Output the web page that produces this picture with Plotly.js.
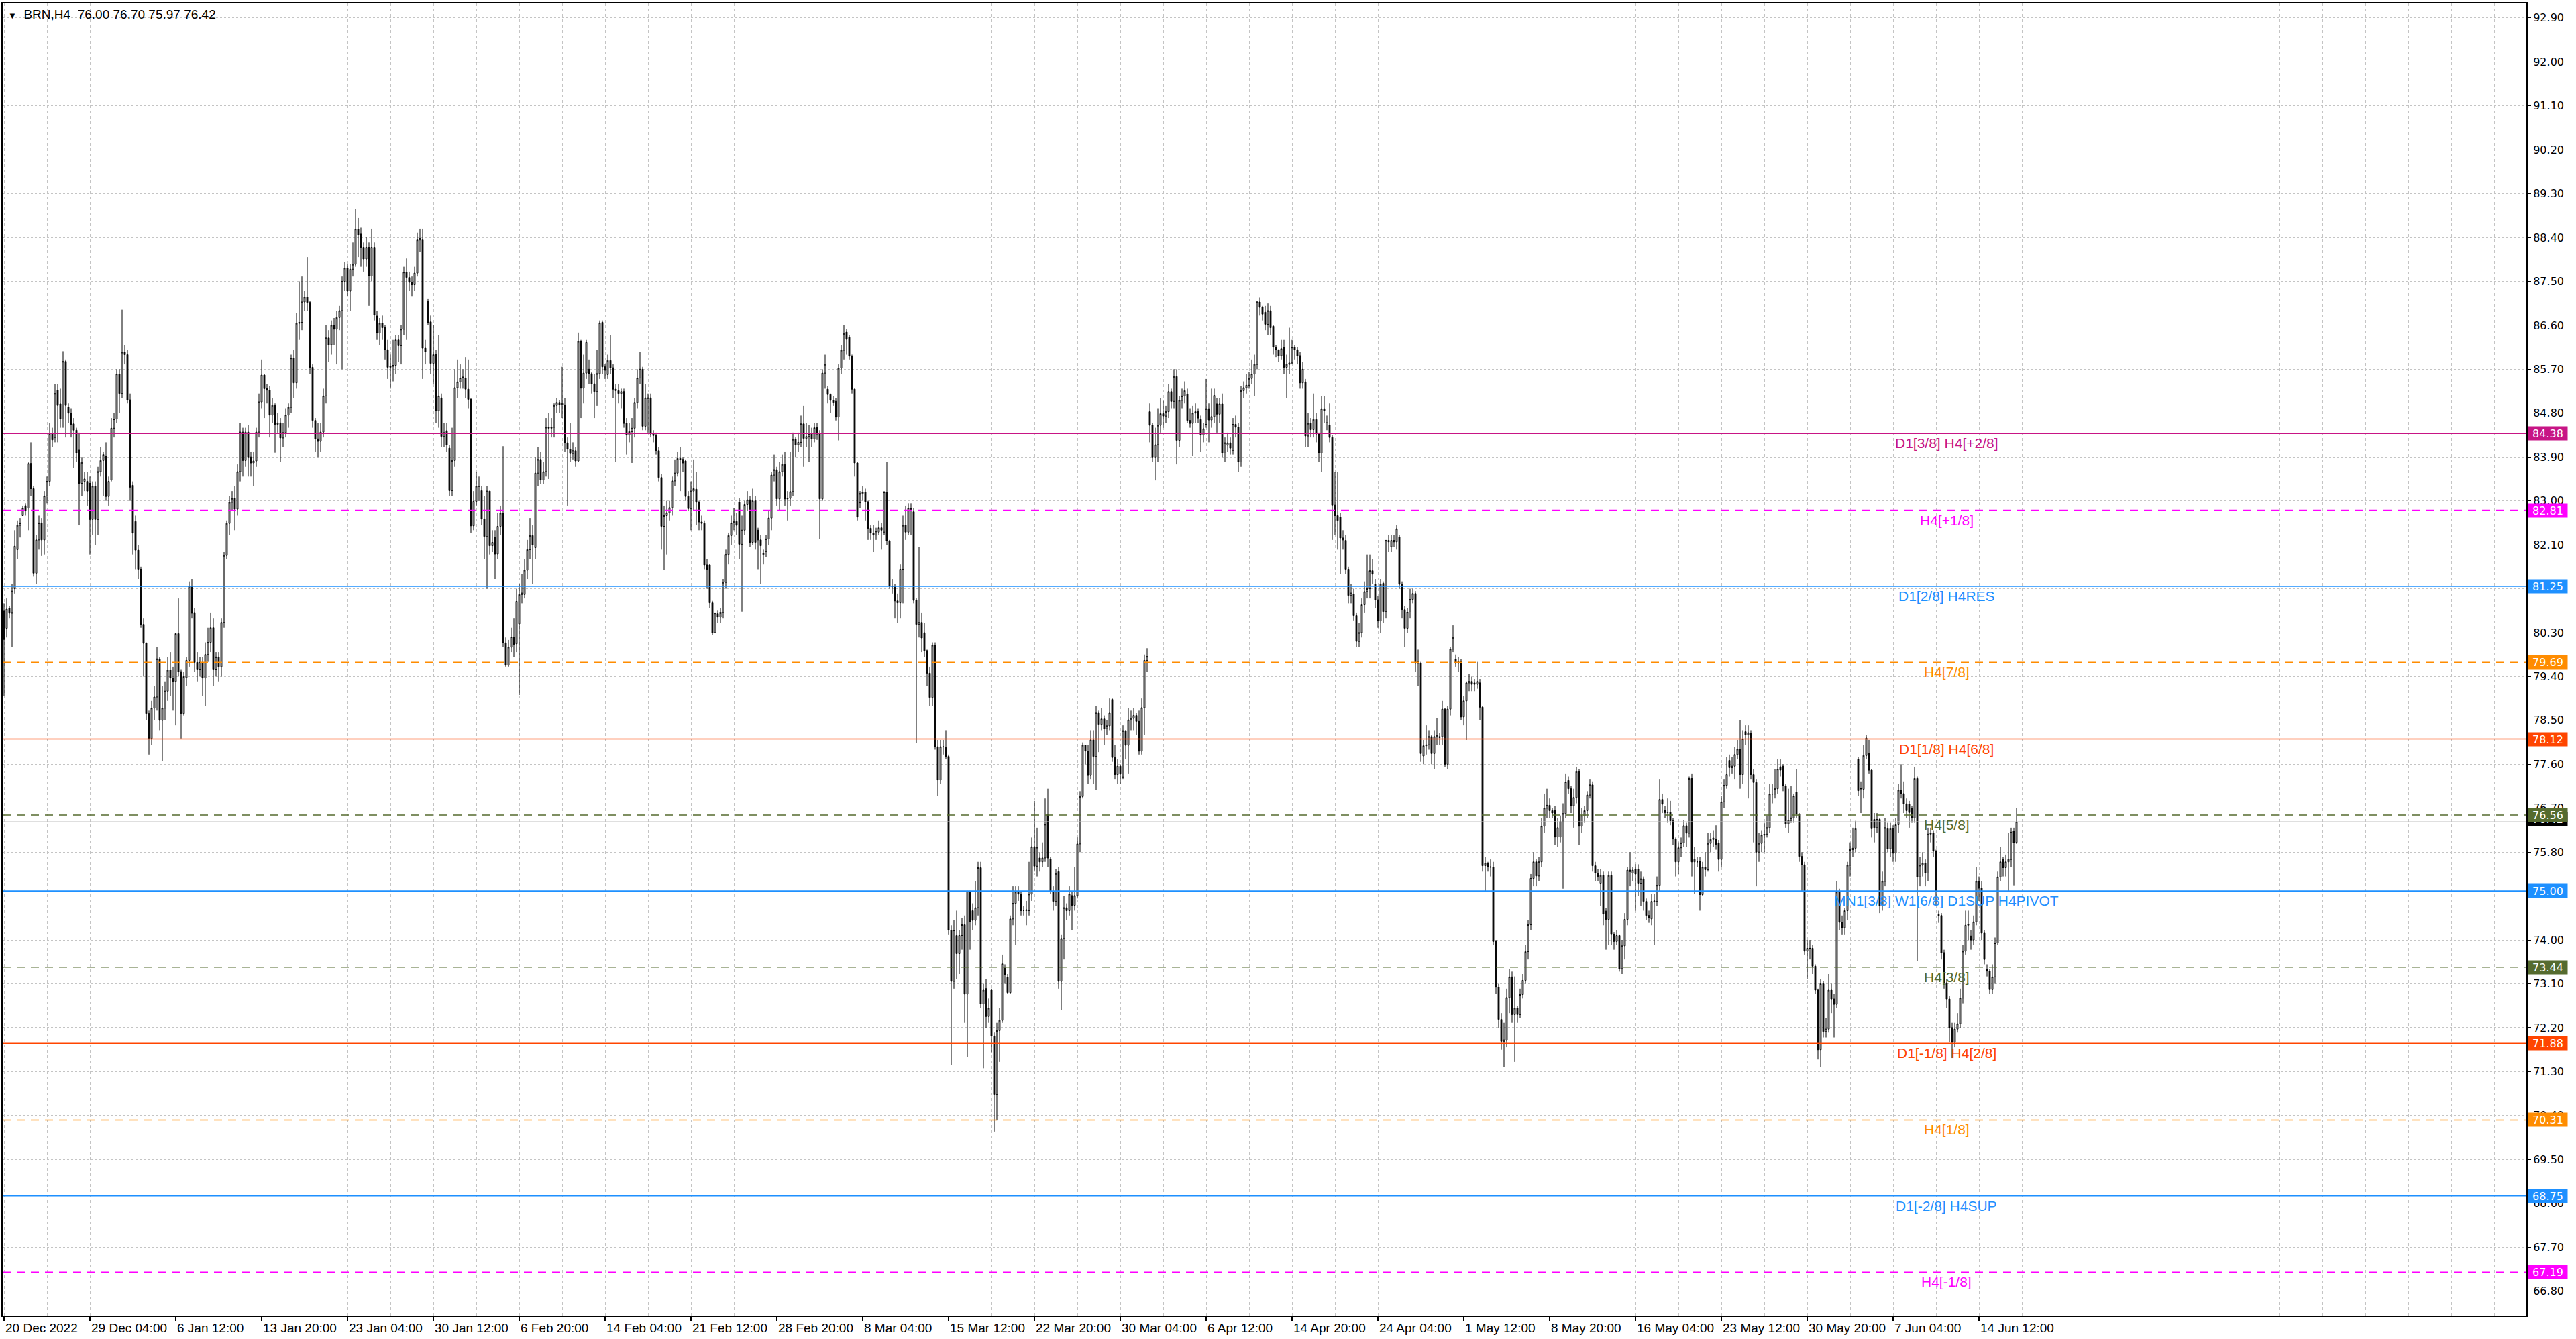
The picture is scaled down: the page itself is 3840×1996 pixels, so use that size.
<!DOCTYPE html>
<html>
<head>
<meta charset="utf-8">
<script src="https://cdn.plot.ly/plotly-3.0.1.min.js"></script>
<style>
html,body{margin:0;padding:0;background:#ffffff;overflow:hidden;}
#chart{width:3840px;height:1996px;}
</style>
</head>
<body>
<div id="chart"></div>
<script>
// ---------- DATA (H4 bars) ----------
const symbolName = "BRN,H4";

const openP = [
80.74,80.39,80.8,80.7,81.2,82.0,82.5,82.7,82.9,82.85,
83.77,83.25,81.52,82.2,82.55,82.2,83.1,83.4,84.37,84.3,
85.27,84.99,84.68,85.86,84.92,84.8,84.58,84.45,84.04,83.36,
83.4,83.4,83.36,82.62,83.3,82.62,83.6,83.83,83.92,83.09,
83.43,84.49,84.68,85.6,85.2,86.05,86.0,85.07,83.32,82.58,
81.99,81.6,80.47,80.08,78.64,78.13,78.75,78.98,79.76,78.5,
78.75,79.1,79.53,79.37,79.3,80.28,79.5,78.64,79.38,79.73,
81.25,80.7,79.69,79.55,79.69,79.37,79.85,80.1,80.4,79.55,
79.8,79.6,80.51,81.88,82.54,82.97,83.05,82.83,83.6,84.41,
83.83,84.41,83.9,83.78,83.82,84.41,85.03,85.58,85.3,85.27,
84.76,84.96,84.57,84.6,84.29,84.4,84.76,84.92,85.93,85.42,
86.64,86.66,87.08,87.18,87.07,85.74,84.65,84.27,84.22,84.41,
85.15,86.34,86.2,86.6,86.52,86.76,86.9,87.5,87.77,87.3,
87.75,87.85,88.57,88.47,88.2,87.96,88.2,87.61,88.2,86.79,
86.44,86.64,86.55,86.1,85.74,85.76,85.78,86.3,86.18,86.52,
87.69,87.58,87.48,87.43,87.67,88.35,88.35,86.13,87.09,86.67,
85.82,86.0,84.85,85.11,84.32,84.44,84.08,83.21,83.83,85.32,
85.44,85.52,85.52,85.29,85.08,82.49,82.99,83.3,83.21,82.63,
82.27,83.2,82.08,82.26,81.91,82.48,82.75,80.09,79.63,80.0,
80.21,80.07,80.48,81.08,81.08,81.58,82.0,82.29,82.04,83.57,
83.85,83.43,83.6,84.51,84.49,84.51,84.96,85.02,84.97,84.97,
84.19,84.06,83.97,84.03,83.82,86.27,85.31,85.62,85.7,85.61,
85.4,85.24,85.61,86.66,85.75,85.59,85.88,85.73,85.29,85.26,
85.2,85.24,84.59,84.35,84.42,84.49,85.02,85.52,85.7,84.53,
85.11,85.11,84.37,84.34,84.03,83.48,82.48,82.7,82.76,82.86,
83.41,83.57,83.87,83.85,83.82,83.09,82.84,83.2,83.24,82.97,
82.57,82.54,81.69,81.69,80.91,80.3,80.69,80.62,80.71,81.33,
81.9,82.29,82.55,82.58,82.97,82.11,82.4,82.92,83.02,82.15,
83.0,82.4,82.2,81.9,81.96,82.22,82.65,83.53,83.64,83.04,
83.6,83.75,83.04,83.05,83.19,84.26,84.15,84.2,84.58,84.28,
84.32,84.38,84.27,84.5,84.37,83.04,85.62,85.29,85.18,85.06,
85.04,84.72,85.72,86.09,86.46,86.35,85.97,85.29,83.78,82.96,
83.15,83.18,82.98,82.44,82.34,82.3,82.36,82.45,82.36,83.18,
82.18,81.25,81.25,80.95,80.91,81.6,82.5,82.36,82.85,82.78,
80.96,80.47,80.51,80.3,79.93,79.47,78.97,80.04,77.96,77.28,
77.96,77.94,77.76,74.2,73.15,74.09,73.72,74.09,74.31,72.89,
75.0,74.6,74.4,74.66,75.48,72.69,73.0,72.43,72.97,72.03,
70.83,72.14,72.35,73.42,73.23,72.92,74.43,74.75,74.98,74.94,
74.6,74.6,74.6,74.94,75.91,75.51,75.68,75.6,75.68,76.57,
75.66,75.0,74.79,75.4,73.15,74.03,74.66,74.6,74.91,74.71,
74.91,75.97,76.94,77.99,77.87,77.37,78.1,77.76,78.65,78.42,
78.53,78.33,78.39,78.93,77.74,77.39,77.56,77.34,78.29,77.99,
78.51,78.54,78.6,78.48,77.87,78.76,79.73,84.83,84.55,83.9,
84.15,84.55,84.79,84.74,84.83,85.24,85.04,85.55,84.24,85.06,
85.15,85.19,84.65,84.59,84.8,84.83,84.67,84.35,84.57,84.89,
84.66,84.73,84.99,84.78,84.99,83.98,84.14,84.19,84.03,84.57,
84.51,83.8,85.26,85.32,85.37,85.51,85.6,85.8,87.08,86.97,
86.87,86.62,86.9,86.58,86.15,86.1,85.98,86.15,85.74,85.8,
85.83,86.15,86.1,85.98,85.42,85.44,84.33,84.59,84.46,84.67,
84.37,83.98,84.89,84.6,84.55,84.3,82.91,82.7,82.67,82.24,
82.19,81.6,81.06,81.09,80.65,80.12,80.3,80.87,81.14,81.2,
81.57,81.29,80.97,80.54,81.31,80.73,82.19,82.06,82.19,82.16,
82.26,81.29,80.77,80.39,80.72,80.98,81.1,79.67,79.67,77.77,
77.98,78.0,78.17,77.82,78.17,78.17,78.17,78.73,77.6,78.73,
79.96,79.75,79.67,79.7,78.57,78.9,79.27,79.3,79.27,79.24,
79.27,78.77,75.52,75.57,75.5,75.49,73.97,73.03,72.37,71.92,
71.94,72.82,73.24,72.47,72.6,72.47,72.88,73.17,73.76,74.31,
75.26,75.6,75.31,75.6,76.33,76.7,76.76,76.65,76.65,76.11,
76.11,76.43,76.59,77.27,77.1,76.75,76.92,77.45,76.33,76.54,
76.65,76.97,77.18,75.52,75.37,75.15,75.32,74.59,74.42,75.32,
74.11,73.97,74.09,73.41,73.88,74.42,75.43,75.37,75.45,75.45,
75.15,75.25,74.79,74.5,74.43,74.79,74.79,75.12,76.88,76.66,
76.61,76.62,76.44,76.07,75.6,75.89,75.99,76.34,76.19,77.31,
75.6,75.6,75.61,74.93,75.49,75.44,75.98,76.06,76.07,75.99,
75.65,76.83,77.17,77.68,77.53,77.56,77.8,77.91,77.39,78.27,
78.21,78.23,77.39,77.23,75.8,75.98,76.15,76.17,76.3,76.99,
76.99,77.1,77.55,77.56,77.16,76.38,76.45,76.5,77.03,76.58,
75.71,75.54,73.77,73.83,73.83,73.46,72.97,71.75,73.1,72.12,
72.17,72.97,72.79,72.68,74.98,74.36,74.25,74.6,75.53,75.85,
75.88,77.7,77.1,77.09,77.78,77.82,77.48,76.47,76.3,76.47,
74.7,75.2,76.28,75.87,76.28,75.78,76.36,77.07,77.0,76.79,
76.78,76.69,76.5,77.31,75.29,75.53,75.57,75.37,76.17,76.19,
75.82,74.52,74.5,73.74,73.12,72.79,72.2,71.9,72.17,72.28,
72.81,73.77,74.3,74.08,74.0,74.37,75.2,75.06,74.14,73.4,
73.36,72.98,73.24,73.94,75.29,75.65,75.48,75.6,75.65,76.23,76.00
];

const highP = [
80.9,81.0,80.85,81.3,82.4,82.6,82.65,82.9,82.95,83.8,
84.2,83.3,82.3,82.7,82.65,83.2,83.5,84.6,84.5,85.4,
85.4,85.3,86.07,85.9,85.0,84.9,84.7,84.5,84.4,83.9,
83.6,83.6,83.5,83.4,83.4,83.7,84.1,84.0,84.2,83.5,
84.7,84.8,85.7,85.7,86.92,86.2,86.1,85.2,83.4,82.7,
82.1,81.65,80.6,80.1,78.7,78.9,79.2,80.0,79.8,79.2,
79.3,79.8,79.9,79.6,80.3,81.0,79.55,79.5,79.8,81.35,
81.4,80.8,79.9,79.8,79.8,80.1,80.4,80.7,80.6,79.9,
79.9,80.6,81.95,82.6,83.1,83.2,83.3,83.75,84.6,84.5,
84.5,84.55,84.0,84.0,84.5,85.2,85.9,85.6,85.4,85.35,
85.1,85.0,84.8,84.7,84.6,84.9,85.0,86.0,86.1,86.85,
87.5,87.6,87.3,88.0,87.1,85.8,84.7,84.6,84.6,85.3,
86.6,86.5,86.7,86.75,86.9,87.0,87.6,87.9,87.85,87.85,
88.3,88.99,88.8,88.6,88.3,88.4,88.3,88.58,88.3,86.9,
86.75,86.8,86.6,86.3,86.0,86.3,86.4,86.4,86.6,87.8,
87.97,87.7,87.6,87.8,88.5,88.58,88.58,86.3,87.15,86.8,
86.6,86.1,86.4,85.2,84.6,84.6,84.15,84.5,85.7,85.9,
85.8,85.7,85.95,85.9,85.1,83.2,83.6,83.5,83.3,83.1,
83.3,83.2,82.4,82.4,82.75,82.9,84.12,80.2,80.15,80.4,
80.6,81.2,81.3,81.5,81.8,82.2,82.65,82.5,83.9,84.1,
84.0,83.8,84.7,84.8,84.7,85.0,85.1,85.06,85.75,85.1,
84.3,84.6,84.2,84.1,86.45,86.3,86.0,86.3,85.9,85.65,
85.6,86.1,86.7,86.7,85.8,86.0,86.4,85.8,85.4,85.4,
85.3,85.3,84.7,84.6,84.7,85.1,85.7,86.05,85.75,85.4,
85.2,85.2,84.45,84.4,84.1,83.55,82.9,83.0,83.0,83.5,
83.85,84.0,84.1,83.9,83.85,83.2,83.4,83.85,83.6,83.0,
82.7,82.6,81.8,81.7,80.95,80.7,80.75,80.8,81.4,82.0,
82.35,82.7,82.85,82.75,83.05,82.7,83.0,83.2,83.1,83.25,
83.1,82.45,82.3,82.0,82.3,82.8,83.6,83.95,83.7,83.8,
83.95,84.0,83.2,84.0,84.4,84.3,84.4,84.75,84.95,84.6,
84.55,84.5,84.6,84.6,84.45,85.7,86.0,85.35,85.2,85.15,
85.1,85.8,86.2,86.6,86.52,86.4,86.0,85.3,83.8,83.2,
83.3,83.25,83.0,82.5,82.5,82.45,82.6,82.55,83.2,83.8,
82.2,81.4,81.3,81.1,81.7,82.7,82.9,82.95,82.95,82.85,
81.0,82.05,80.7,80.5,79.95,79.6,80.1,80.1,78.1,78.1,
78.1,78.3,77.8,74.3,74.4,74.6,74.2,74.45,74.5,75.0,
75.0,74.75,75.2,75.6,75.6,73.1,73.2,72.8,73.0,72.1,
72.3,72.6,73.7,73.5,73.3,74.5,75.1,75.1,75.1,75.0,
74.7,74.8,75.6,76.1,76.85,76.3,75.8,76.0,76.9,77.1,
75.7,75.1,75.45,75.5,74.1,74.9,74.75,75.1,75.0,75.5,
76.1,77.05,78.05,78.0,78.0,78.3,78.3,78.8,78.7,78.75,
78.6,78.5,78.95,78.95,78.0,77.7,77.6,78.4,78.3,78.75,
78.7,78.75,78.65,78.7,78.95,79.85,79.98,85.0,84.6,84.5,
84.9,85.1,85.05,84.95,85.4,85.3,85.7,85.7,85.15,85.3,
85.45,85.3,84.9,84.95,85.0,84.9,84.75,84.6,85.5,85.0,
85.3,85.3,85.1,85.1,85.2,84.3,84.4,84.3,84.7,84.75,
84.6,85.35,85.45,85.6,85.65,85.9,86.0,87.1,87.17,87.0,
87.0,87.05,87.0,86.6,86.2,86.1,86.3,86.3,86.0,86.55,
86.3,86.2,86.15,86.05,85.85,85.5,84.8,84.7,85.2,84.8,
84.4,85.15,85.15,84.75,85.0,84.35,83.6,83.6,82.75,82.4,
82.3,81.65,81.3,81.2,80.7,80.5,81.0,81.35,81.9,81.9,
81.8,81.4,81.05,81.4,81.35,82.2,82.3,82.3,82.3,82.5,
82.3,81.35,80.85,80.8,81.2,81.2,81.15,79.95,79.7,78.1,
78.4,78.3,78.2,78.3,78.55,78.25,78.9,78.75,78.8,80.0,
80.45,79.85,79.8,79.75,79.0,79.3,79.45,79.4,79.35,79.7,
79.35,78.8,75.7,75.6,75.65,75.6,74.0,73.1,72.5,72.3,
73.0,73.4,73.35,73.25,72.65,73.0,73.3,73.9,74.4,75.35,
75.8,75.65,75.7,76.5,77.0,77.1,76.9,76.7,76.75,76.5,
76.55,76.8,77.4,77.35,77.15,77.1,77.55,77.5,76.7,76.75,
77.05,77.3,77.25,75.6,75.45,75.45,75.4,74.65,75.4,75.4,
74.15,74.2,74.1,74.0,74.55,75.5,75.8,75.5,75.55,75.55,
75.4,75.3,74.85,74.6,74.95,74.95,75.3,77.3,77.0,76.75,
76.9,76.85,76.5,76.1,76.0,76.1,76.45,76.4,77.35,77.4,
75.9,75.7,75.7,75.6,75.8,76.2,76.2,76.25,76.35,76.05,
76.95,77.3,77.75,77.8,77.75,77.95,78.1,78.5,78.3,78.4,
78.4,78.3,77.5,77.3,76.2,76.25,76.4,76.55,77.2,77.2,
77.5,77.7,77.7,77.6,77.2,77.1,77.15,77.0,77.5,76.6,
75.8,75.6,74.0,74.0,73.9,73.5,73.0,73.2,73.15,72.4,
73.3,73.1,72.9,75.2,75.05,74.5,74.65,75.6,76.0,76.3,
76.44,77.75,77.25,78.0,78.2,78.1,77.5,76.6,76.6,76.5,
75.4,76.5,76.4,76.4,76.35,76.5,77.2,77.6,77.25,76.9,
76.85,76.75,77.55,77.35,75.7,75.8,75.65,76.3,76.3,76.25,
75.85,74.6,74.55,73.8,73.2,72.85,72.3,72.3,72.5,73.0,
73.9,74.6,74.6,74.2,74.5,75.5,75.3,75.2,74.2,73.5,
73.4,73.5,74.05,75.4,75.9,75.7,75.75,76.2,76.3,76.3,76.70
];

const lowP = [
79.0,80.2,80.6,80.0,81.1,81.8,82.25,82.7,82.7,82.4,
83.1,81.45,81.3,82.0,81.87,81.9,82.95,83.3,84.1,84.2,
84.2,84.5,84.5,84.3,84.6,84.3,83.67,83.8,82.5,83.1,
83.2,82.9,81.9,82.3,82.1,82.3,83.5,83.1,83.0,82.9,
83.4,84.3,84.6,84.8,85.1,85.8,85.0,83.0,81.9,81.6,
81.4,80.4,79.4,78.5,77.8,78.0,78.5,78.7,78.3,77.66,
78.5,78.9,79.0,78.7,78.4,79.4,78.13,78.6,79.2,79.6,
80.6,79.5,79.3,79.4,79.0,78.8,79.7,79.9,79.2,79.4,
79.3,79.4,80.4,81.8,82.3,82.8,82.4,82.7,83.4,83.5,
83.7,83.5,83.5,83.3,83.7,84.3,84.9,84.7,85.0,84.3,
84.6,83.99,84.4,83.8,84.1,84.3,84.5,84.8,85.1,85.3,
86.3,86.5,86.9,86.9,85.6,84.5,84.0,83.9,84.0,84.3,
85.0,85.85,86.0,86.2,85.8,86.5,85.7,87.3,87.2,86.9,
87.6,87.8,88.0,87.8,87.7,87.8,87.0,87.5,86.7,86.3,
86.2,86.3,85.9,85.5,85.3,85.45,85.6,85.85,85.8,86.4,
86.3,87.3,87.2,87.3,87.6,88.1,85.5,85.8,86.6,85.6,
85.4,84.6,84.5,84.1,84.1,84.0,83.1,83.1,83.7,85.1,
85.3,85.3,85.1,84.9,82.35,82.4,82.9,83.0,82.5,81.8,
81.2,81.9,81.95,81.4,81.8,82.3,80.0,79.6,79.6,79.9,
79.8,79.9,79.02,80.9,81.0,81.4,81.8,81.3,81.8,83.3,
83.35,83.35,83.5,83.45,84.3,84.3,84.8,84.8,84.7,84.0,
82.9,83.8,83.85,83.7,83.8,84.7,85.0,85.5,85.4,85.2,
84.7,84.95,85.5,85.6,85.5,85.5,85.6,85.1,83.8,85.0,
84.9,84.5,83.95,84.2,83.78,84.3,84.9,85.4,84.45,84.45,
84.4,84.3,84.2,83.95,83.4,82.0,81.58,81.9,82.6,82.7,
83.3,83.5,83.2,83.6,83.0,82.8,82.4,82.8,82.5,82.4,
82.4,81.6,81.2,80.8,80.25,80.3,80.5,80.5,80.6,81.2,
81.7,82.1,82.4,82.3,81.8,80.73,82.3,82.8,82.05,82.1,
82.0,81.6,81.3,81.7,81.85,82.1,82.4,83.4,82.9,82.8,
83.5,82.9,82.6,82.9,83.1,83.9,84.0,84.1,83.7,84.1,
83.8,84.1,84.2,84.25,82.22,83.0,85.3,85.0,84.8,84.95,
84.65,84.24,85.6,85.9,86.0,85.9,85.2,83.5,82.6,82.85,
83.0,82.6,82.2,82.2,81.95,82.2,82.3,82.0,82.3,82.1,
81.2,81.1,80.6,80.5,80.6,80.9,82.2,82.3,82.3,80.9,
78.04,80.2,79.9,79.8,79.2,78.8,78.8,77.9,76.95,77.2,
77.8,77.7,74.1,71.44,73.0,73.2,73.3,73.8,72.3,71.6,
73.8,74.2,74.3,74.5,72.6,71.37,72.2,72.3,71.7,70.07,
70.3,71.5,72.3,73.1,72.9,72.9,74.3,73.9,74.8,74.5,
74.5,74.3,74.5,74.8,75.4,75.3,75.4,75.5,75.6,75.5,
74.95,74.6,74.7,73.0,72.56,73.6,74.4,74.5,74.2,74.6,
74.85,75.8,76.9,77.6,77.2,77.3,77.2,77.07,77.85,78.3,
78.0,78.2,78.3,77.65,77.3,77.2,77.2,77.3,77.7,77.4,
78.3,78.3,78.2,77.8,77.8,78.2,79.5,84.2,83.8,83.42,
83.8,84.4,84.5,84.6,84.7,84.9,84.9,83.75,84.1,84.9,
85.0,84.6,84.5,83.92,84.6,84.6,84.0,84.2,84.5,84.2,
84.5,84.6,84.4,84.6,83.9,83.8,84.0,83.95,83.95,84.3,
83.6,83.7,85.1,85.2,85.3,85.4,85.15,85.7,86.8,86.7,
86.5,86.4,86.4,86.0,85.95,85.85,85.9,85.6,85.1,85.6,
85.8,85.9,85.8,85.3,85.3,84.1,84.1,84.3,84.3,84.2,
83.8,83.6,84.6,84.45,84.2,82.2,82.3,82.0,81.5,82.0,
81.5,80.9,80.9,80.55,80.0,80.0,80.2,80.7,81.0,81.0,
81.3,80.8,80.4,80.3,80.5,80.6,81.95,81.95,82.05,82.0,
81.2,80.6,80.0,80.3,80.6,80.9,79.5,79.2,77.65,77.6,
77.8,77.9,77.6,77.5,78.0,78.0,78.0,77.55,77.5,78.6,
79.9,79.6,79.5,78.5,78.4,78.1,79.1,79.1,79.1,79.15,
78.5,75.4,75.0,75.4,75.3,73.9,72.9,72.2,71.75,71.4,
71.8,72.5,72.3,71.5,72.3,72.4,72.8,73.1,73.6,74.2,
75.1,75.1,75.2,75.5,76.2,76.5,76.5,76.5,75.95,75.9,
76.0,75.05,76.5,77.0,76.6,76.3,76.8,75.95,76.2,76.4,
76.5,76.9,75.4,75.2,75.2,74.7,74.3,73.8,73.9,73.9,
73.8,73.9,73.35,73.3,73.6,74.3,75.1,75.2,74.6,74.9,
74.7,74.6,74.4,74.35,74.3,73.9,74.7,75.0,76.6,76.5,
76.4,76.35,75.95,75.3,75.35,75.7,75.9,75.9,76.1,75.3,
74.95,75.5,74.6,74.9,75.3,75.4,75.8,75.9,75.85,75.4,
75.5,76.7,77.1,77.35,77.4,77.3,77.7,77.1,77.2,78.0,
76.9,77.3,76.0,75.1,75.6,75.8,75.8,76.1,76.2,76.8,
76.9,77.0,77.35,77.05,76.3,76.2,76.4,76.4,76.5,75.6,
75.0,73.7,73.2,73.6,73.3,72.9,71.55,71.4,72.0,72.0,
72.1,72.5,72.0,72.6,74.2,74.1,74.1,74.4,75.3,75.7,
75.8,76.95,76.6,76.9,77.7,77.4,76.1,76.0,76.2,74.55,
74.6,75.1,75.8,75.7,75.6,75.6,76.2,76.9,76.6,76.5,
76.3,76.4,76.4,73.57,75.1,75.3,75.1,75.2,76.0,75.7,
74.7,74.35,73.6,73.0,72.6,71.9,71.58,71.8,72.1,72.2,
72.7,73.7,74.0,73.8,73.9,74.3,74.8,74.0,73.5,73.25,
72.9,72.9,73.1,73.9,75.2,75.3,75.3,75.0,75.5,75.12,75.97
];

const closeP = [
80.16,80.78,80.7,81.15,82.07,82.5,82.55,82.85,82.8,83.77,
83.25,81.52,82.2,82.55,82.2,83.1,83.4,84.37,84.25,85.2,
84.96,84.68,85.86,84.96,84.8,84.57,84.45,83.98,83.36,83.79,
83.45,83.2,82.62,83.3,82.62,83.6,83.83,83.95,83.09,83.4,
84.49,84.68,85.6,85.2,86.05,86.0,85.07,83.28,82.34,81.99,
81.6,80.47,80.08,78.64,78.13,78.75,78.98,79.76,78.5,78.75,
79.1,79.53,79.37,79.3,80.28,79.5,78.64,79.4,79.73,81.25,
80.7,79.69,79.55,79.69,79.37,79.85,80.1,80.4,79.55,79.8,
79.6,80.51,81.88,82.54,82.97,83.05,82.83,83.6,84.41,83.83,
84.41,83.9,83.78,83.82,84.41,85.03,85.58,85.3,85.27,84.76,
84.96,84.57,84.6,84.29,84.4,84.76,84.92,85.93,85.42,86.64,
86.66,87.08,87.18,87.07,85.74,84.65,84.27,84.22,84.41,85.15,
86.34,86.2,86.6,86.52,86.76,86.9,87.5,87.77,87.3,87.75,
87.85,88.57,88.45,88.2,87.96,88.2,87.61,88.2,86.81,86.44,
86.64,86.55,86.1,85.74,85.76,85.78,86.3,86.18,86.52,87.69,
87.58,87.48,87.43,87.67,88.35,88.38,86.13,86.06,86.65,85.82,
86.0,84.85,85.15,84.32,84.4,84.15,83.21,83.83,85.32,85.44,
85.52,85.54,85.29,85.08,82.49,82.99,83.3,83.3,82.63,82.27,
83.2,82.08,82.15,81.91,82.48,82.75,80.09,79.63,80.0,80.21,
80.06,80.94,81.08,81.11,81.58,82.0,82.29,82.1,83.57,83.85,
83.43,83.6,84.51,84.49,84.51,84.96,85.02,84.97,85.0,84.19,
84.06,83.97,84.03,83.82,86.27,85.31,85.62,86.25,85.61,85.4,
85.24,85.61,86.65,85.75,85.68,85.88,85.73,85.29,85.26,85.2,
85.24,84.59,84.35,84.42,84.49,85.02,85.52,85.7,84.53,85.11,
85.1,84.37,84.34,84.03,83.48,82.48,82.7,82.76,82.86,83.41,
83.57,83.87,83.85,83.78,83.09,82.84,83.2,83.25,82.97,82.57,
82.54,81.69,81.6,80.91,80.3,80.69,80.62,80.71,81.33,81.9,
82.29,82.55,82.58,82.5,82.11,82.4,82.92,83.02,82.15,83.0,
82.15,82.2,82.08,81.92,82.22,82.65,83.53,83.64,83.04,83.6,
83.75,83.04,83.05,83.19,84.26,84.15,84.2,84.58,84.28,84.32,
84.38,84.27,84.5,84.37,83.04,85.62,85.8,85.18,85.06,85.02,
84.72,85.72,86.09,86.43,86.31,85.97,85.29,83.78,82.67,83.15,
83.18,82.98,82.44,82.34,82.3,82.38,82.45,82.4,83.18,82.18,
81.25,81.24,80.95,80.91,81.6,82.5,82.36,82.85,82.8,80.96,
80.47,80.51,80.19,79.93,79.47,78.97,80.04,77.96,77.28,77.96,
77.96,77.76,74.2,73.15,74.2,73.72,74.09,74.31,72.89,75.0,
74.37,74.4,74.66,75.48,72.69,72.97,72.43,72.6,72.03,70.83,
72.14,72.35,73.51,73.29,72.92,74.43,74.75,74.98,74.94,74.6,
74.6,74.62,74.94,75.91,75.51,75.9,75.6,75.68,76.37,75.68,
75.0,74.79,75.36,73.15,74.03,74.66,74.6,74.94,74.71,74.91,
75.97,76.94,77.99,77.87,77.37,78.1,77.76,78.65,78.42,78.53,
78.33,78.39,78.65,77.74,77.39,77.56,77.4,78.29,77.99,78.51,
78.54,78.6,78.48,77.87,78.76,79.73,79.81,84.55,83.9,84.15,
84.55,84.79,84.74,84.83,85.24,85.04,85.55,84.24,85.06,85.15,
85.26,84.65,84.59,84.8,84.83,84.7,84.35,84.48,84.89,84.66,
84.73,85.16,84.78,84.99,83.98,84.19,84.19,84.08,84.57,84.51,
83.8,85.26,85.32,85.37,85.51,85.6,85.8,87.08,86.97,86.83,
86.62,86.9,86.55,86.15,86.1,85.98,86.12,85.74,85.8,85.83,
86.15,86.1,85.98,85.42,85.7,84.33,84.59,84.46,84.67,84.37,
83.98,84.89,84.85,84.6,84.3,82.91,82.7,82.6,82.24,82.2,
81.6,81.06,81.11,80.65,80.12,80.3,80.87,81.14,81.2,81.57,
81.5,80.97,80.54,81.29,80.73,82.19,82.16,82.19,82.16,82.43,
81.29,80.77,80.39,80.72,80.98,81.1,79.67,79.7,77.82,77.98,
78.0,78.17,77.82,78.17,78.2,78.15,78.73,77.6,78.73,79.96,
80.2,79.67,79.7,78.57,78.9,79.27,79.3,79.24,79.24,79.3,
78.77,75.52,75.57,75.5,75.49,73.97,73.03,72.37,71.92,71.95,
72.82,73.24,72.47,72.6,72.47,72.88,73.17,73.76,74.31,75.26,
75.6,75.31,75.6,76.33,76.7,76.76,76.65,76.6,76.11,76.3,
76.43,76.59,77.24,77.1,76.75,76.92,77.45,76.33,76.55,76.65,
76.97,77.18,75.52,75.37,75.3,75.32,74.53,74.42,75.32,74.11,
73.97,74.09,73.41,73.88,74.42,75.43,75.4,75.43,75.35,75.15,
75.25,74.79,74.5,74.45,74.79,74.8,75.12,76.88,76.78,76.61,
76.62,76.44,76.07,75.6,75.89,75.99,76.34,76.19,77.31,75.6,
75.65,75.6,74.93,75.49,75.44,75.98,76.06,76.09,75.96,75.65,
76.83,77.17,77.39,77.53,77.56,77.8,77.91,77.39,78.12,78.21,
78.25,77.39,77.23,75.8,75.98,76.15,76.17,76.3,76.99,76.99,
77.1,77.5,77.48,77.16,76.38,76.45,76.5,76.95,76.58,75.71,
75.54,73.77,73.83,73.83,73.46,72.97,71.75,73.1,72.12,72.17,
72.97,72.79,72.68,74.98,74.36,74.25,74.6,75.53,75.85,75.88,
76.28,77.06,77.1,77.78,78.14,77.48,76.28,76.3,76.47,74.7,
75.2,76.3,75.87,76.28,75.78,76.36,77.07,77.0,76.79,76.65,
76.61,76.5,77.31,75.29,75.53,75.57,75.37,76.17,76.19,75.82,
75.01,74.5,73.74,73.12,72.79,72.2,71.9,72.17,72.28,72.81,
73.77,74.3,74.32,74.0,74.37,75.2,75.06,74.14,73.6,73.36,
72.98,73.24,73.94,75.29,75.6,75.48,75.6,75.65,76.21,75.99,76.42
];

// time-axis labels (one every 32 H4 bars)
const timeLabels = ["20 Dec 2022","29 Dec 04:00","6 Jan 12:00","13 Jan 20:00","23 Jan 04:00",
"30 Jan 12:00","6 Feb 20:00","14 Feb 04:00","21 Feb 12:00","28 Feb 20:00","8 Mar 04:00",
"15 Mar 12:00","22 Mar 20:00","30 Mar 04:00","6 Apr 12:00","14 Apr 20:00","24 Apr 04:00",
"1 May 12:00","8 May 20:00","16 May 04:00","23 May 12:00","30 May 20:00","7 Jun 04:00","14 Jun 12:00"];
const barsPerLabel = 32;

// price scale ticks (81.20 and 74.90 sit fully under the price boxes in the reference)
const priceTicks = [92.90,92.00,91.10,90.20,89.30,88.40,87.50,86.60,85.70,84.80,83.90,83.00,82.10,81.20,
80.30,79.40,78.50,77.60,76.70,75.80,74.90,74.00,73.10,72.20,71.30,70.40,69.50,68.60,67.70,66.80];
const priceTickLabels = ["92.90","92.00","91.10","90.20","89.30","88.40","87.50","86.60","85.70","84.80",
"83.90","83.00","82.10","","80.30","79.40","78.50","77.60","76.70","75.80","","74.00","73.10",
"72.20","71.30","70.40","69.50","68.60","67.70","66.80"];

// Murrey-math style level lines
const levelPrices = [84.38,82.81,81.25,79.69,78.12,76.56,75.00,73.44,71.88,70.31,68.75,67.19];
const levelNames = ["D1[3/8] H4[+2/8]","H4[+1/8]","D1[2/8] H4RES","H4[7/8]","D1[1/8] H4[6/8]","H4[5/8]",
"MN1[3/8] W1[6/8] D1SUP H4PIVOT","H4[3/8]","D1[-1/8] H4[2/8]","H4[1/8]","D1[-2/8] H4SUP","H4[-1/8]"];
const levelColors = ["#C71585","#FF00FF","#1E90FF","#FF8C00","#FF4500","#556B2F",
"#1E90FF","#556B2F","#FF4500","#FF8C00","#1E90FF","#FF00FF"];
const levelDashed = [false,true,false,true,false,true,false,true,false,true,false,true];
const levelWidths = [1.5,1.5,1.5,1.5,1.5,1.5,2.5,1.5,1.5,1.5,1.5,1.5];

const bidPrice = 76.42;

// ---------- BUILD ----------
const nBars = Math.min(openP.length, highP.length, lowP.length, closeP.length);
const idx = [];
for (let i = 0; i < nBars; i++) idx.push(i);
const tickIdx = timeLabels.map((_, k) => k * barsPerLabel);

const arial = "Liberation Sans, Arial, sans-serif";
const verd = "DejaVu Sans, Verdana, sans-serif";

const candle = {
  type: "candlestick",
  x: idx.slice(), open: openP.slice(0, nBars), high: highP.slice(0, nBars),
  low: lowP.slice(0, nBars), close: closeP.slice(0, nBars),
  increasing: {line: {color: "#000000", width: 1}, fillcolor: "#ffffff"},
  decreasing: {line: {color: "#000000", width: 1}, fillcolor: "#000000"},
  whiskerwidth: 0,
  hoverinfo: "skip",
  showlegend: false
};

const shapes = [];
const annotations = [];

// bid line
shapes.push({type: "line", xref: "paper", x0: 0, x1: 1, yref: "y", y0: bidPrice, y1: bidPrice,
  line: {color: "#c0c0c0", width: 1.2}, layer: "above"});

levelPrices.forEach((p, k) => {
  shapes.push({type: "line", xref: "paper", x0: 0, x1: 1, yref: "y", y0: p, y1: p,
    line: {color: levelColors[k], width: levelWidths[k], dash: levelDashed[k] ? "12px,9px" : "solid"},
    layer: "above"});
  annotations.push({xref: "paper", x: 0.7703, yref: "y", y: p, xanchor: "center", yanchor: "top",
    yshift: -1, showarrow: false, text: levelNames[k],
    font: {family: arial, size: 21, color: levelColors[k]}});
});

// right-hand price boxes (bid first so that 76.56 sits on top of it; only a thin strip stays visible)
annotations.push({xref: "paper", x: 1, xanchor: "left", xshift: 2, yref: "y", y: bidPrice, yanchor: "middle",
  yshift: 4, showarrow: false, text: bidPrice.toFixed(2), bgcolor: "#000000", width: 56, height: 18, borderpad: 1,
  font: {family: verd, size: 16, color: "#ffffff"}});
levelPrices.forEach((p, k) => {
  annotations.push({xref: "paper", x: 1, xanchor: "left", xshift: 2, yref: "y", y: p, yanchor: "middle",
    showarrow: false, text: p.toFixed(2), bgcolor: levelColors[k], width: 56, height: 18, borderpad: 1,
    font: {family: verd, size: 16, color: "#ffffff"}});
});

// header
const last = nBars - 1;
annotations.push({xref: "paper", x: 0, xanchor: "left", xshift: 6, yref: "paper", y: 1, yanchor: "top", yshift: -4,
  showarrow: false, align: "left",
  text: '<span style="font-size:13px">\u25BC</span>\u00a0\u00a0' + symbolName + '\u00a0\u00a0' +
        openP[last].toFixed(2) + ' ' + highP[last].toFixed(2) + ' ' + lowP[last].toFixed(2) + ' ' + closeP[last].toFixed(2),
  font: {family: arial, size: 19, color: "#000000"}});

if (!(openP.length === highP.length && highP.length === lowP.length && lowP.length === closeP.length)) {
  annotations.push({xref: "paper", x: 0.3, yref: "paper", y: 0.98, showarrow: false,
    text: "LEN " + openP.length + " " + highP.length + " " + lowP.length + " " + closeP.length,
    font: {size: 30, color: "red"}});
}

const gridCol = "#c4c4c4";
const layout = {
  width: 3840, height: 1996,
  margin: {l: 4, r: 74, t: 5, b: 35, pad: 0},
  paper_bgcolor: "#ffffff", plot_bgcolor: "#ffffff",
  showlegend: false,
  boxgap: 0.35,
  xaxis: {
    type: "linear", range: [-0.5, 940], fixedrange: true,
    tickmode: "array", tickvals: tickIdx, ticktext: timeLabels,
    tickangle: 0,
    ticks: "outside", ticklen: 6, tickwidth: 2, tickcolor: "#000000",
    ticklabelposition: "outside right",
    tickfont: {family: arial, size: 19, color: "#000000"},
    showgrid: true, gridcolor: gridCol, gridwidth: 1, griddash: "4px,4px",
    minor: {tickmode: "linear", tick0: 0, dtick: 16, showgrid: true, gridcolor: gridCol, gridwidth: 1,
            griddash: "4px,4px", ticks: ""},
    showline: true, linecolor: "#000000", linewidth: 2, mirror: true,
    zeroline: false,
    rangeslider: {visible: false}
  },
  yaxis: {
    side: "right", range: [66.30, 93.20], fixedrange: true,
    tickmode: "array", tickvals: priceTicks, ticktext: priceTickLabels,
    ticks: "outside", ticklen: 5, tickwidth: 1, tickcolor: "#000000",
    tickfont: {family: verd, size: 16, color: "#000000"},
    showgrid: true, gridcolor: gridCol, gridwidth: 1, griddash: "3px,3px",
    showline: true, linecolor: "#000000", linewidth: 2, mirror: true,
    zeroline: false
  },
  shapes: shapes,
  annotations: annotations
};

Plotly.newPlot("chart", [candle], layout, {staticPlot: true, displayModeBar: false});
</script>
</body>
</html>
